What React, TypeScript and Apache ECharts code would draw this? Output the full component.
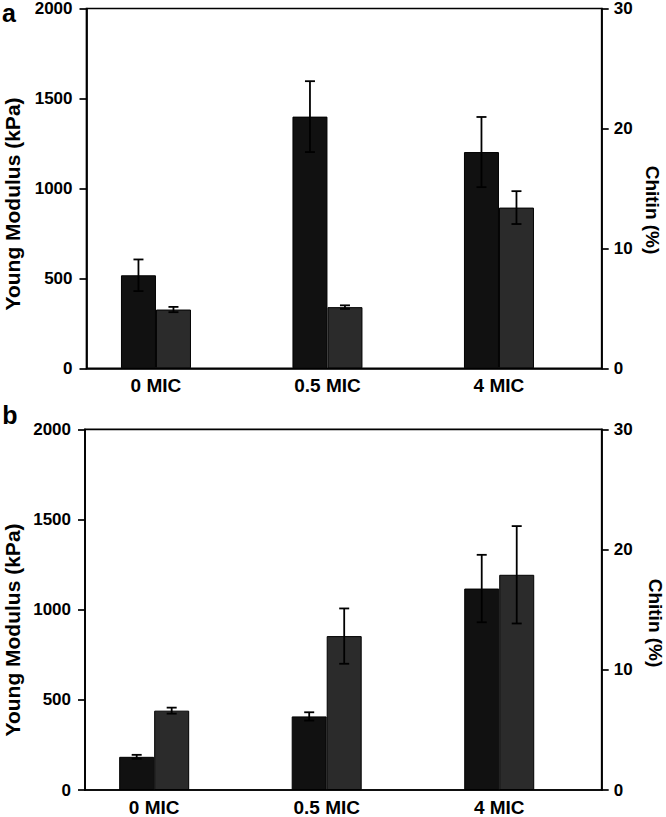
import React, { useEffect, useRef } from "react";
import * as echarts from "echarts";

const categories = ["0 MIC", "0.5 MIC", "4 MIC"];
const categoryPositions = [0, 1, 2];

const modulusA = [517, 1399, 1202];
const modulusErrA = [88, 197, 195];
const chitinA = [4.9, 5.1, 13.4];
const chitinErrA = [0.22, 0.15, 1.37];

const modulusB = [184, 408, 1117];
const modulusErrB = [11, 23, 187];
const chitinB = [6.6, 12.8, 17.9];
const chitinErrB = [0.25, 2.3, 4.05];

const leftTicks = { min: 0, max: 2000, interval: 500 };
const rightTicks = { min: 0, max: 30, interval: 10 };

const FONT = "'Liberation Sans', Arial, Helvetica, sans-serif";
const BAR_W = 35;
const AXIS_W = 1.7;

function yAxes(gridIndex: number) {
  const common = {
    gridIndex,
    type: "value" as const,
    splitLine: { show: false },
    axisLine: { show: true, onZero: false, lineStyle: { color: "#000", width: AXIS_W } },
    axisTick: { show: true, inside: false, length: 7, lineStyle: { color: "#000", width: AXIS_W } },
  };
  const label = { color: "#000", fontSize: 17, fontWeight: "bold", fontFamily: FONT, formatter: (v: number) => String(v) };
  return [
    { ...common, position: "left", ...leftTicks, axisLabel: { ...label, margin: 14 } },
    { ...common, position: "right", ...rightTicks, axisLabel: { ...label, margin: 12 } },
  ];
}

function xAxis(gridIndex: number, min: number, max: number) {
  return {
    gridIndex,
    type: "value" as const,
    min,
    max,
    splitLine: { show: false },
    axisLine: { show: true, onZero: false, lineStyle: { color: "#000", width: AXIS_W } },
    axisTick: { show: false },
    axisLabel: {
      customValues: categoryPositions,
      formatter: (v: number) => categories[Math.round(v)] ?? "",
      margin: 8,
      color: "#000",
      fontSize: 19,
      fontWeight: "bold",
      fontFamily: FONT,
    },
  };
}

function barSeries(xi: number, yi: number, values: number[], color: string) {
  return {
    type: "bar",
    xAxisIndex: xi,
    yAxisIndex: yi,
    barWidth: BAR_W,
    barGap: "0%",
    data: values.map((v, i) => [categoryPositions[i], v]),
    itemStyle: { color, borderColor: "#000", borderWidth: 1 },
    z: 2,
  };
}

function errSeries(xi: number, yi: number, values: number[], errs: number[], offset: number) {
  return {
    type: "custom",
    xAxisIndex: xi,
    yAxisIndex: yi,
    z: 5,
    data: values.map((v, i) => [categoryPositions[i], v, errs[i]]),
    renderItem: (_params: any, api: any) => {
      const x = api.value(0);
      const y = api.value(1);
      const e = api.value(2);
      const top = api.coord([x, y + e]);
      const bot = api.coord([x, y - e]);
      const cx = top[0] + offset;
      const cap = 5;
      const style = { stroke: "#000", lineWidth: 1.8 };
      return {
        type: "group",
        children: [
          { type: "line", shape: { x1: cx, y1: top[1], x2: cx, y2: bot[1] }, style },
          { type: "line", shape: { x1: cx - cap, y1: top[1], x2: cx + cap, y2: top[1] }, style },
          { type: "line", shape: { x1: cx - cap, y1: bot[1], x2: cx + cap, y2: bot[1] }, style },
        ],
      };
    },
  };
}

export default function App() {
  const ref = useRef<HTMLDivElement>(null);
  useEffect(() => {
    if (!ref.current) return;
    const chart = echarts.init(ref.current, null, { renderer: "svg" });
    const gridBase = {
      show: true,
      borderColor: "#000",
      borderWidth: AXIS_W,
      backgroundColor: "transparent",
      containLabel: false,
    };
    const titleStyle = { fill: "#000", fontSize: 21, fontWeight: "bold", fontFamily: FONT, align: "center", verticalAlign: "middle" };
    chart.setOption({
      animation: false,
      backgroundColor: "#fff",
      grid: [
        { ...gridBase, left: 86.5, right: 64.3, top: 7.3, height: 361 },
        { ...gridBase, left: 85, right: 64.3, top: 429.3, height: 362.4 },
      ],
      xAxis: [xAxis(0, -0.405, 2.599), xAxis(1, -0.401, 2.594)],
      yAxis: [...yAxes(0), ...yAxes(1)],
      series: [
        barSeries(0, 0, modulusA, "#111111"),
        barSeries(0, 1, chitinA, "#2b2b2b"),
        errSeries(0, 0, modulusA, modulusErrA, -BAR_W / 2),
        errSeries(0, 1, chitinA, chitinErrA, BAR_W / 2),
        barSeries(1, 2, modulusB, "#111111"),
        barSeries(1, 3, chitinB, "#2b2b2b"),
        errSeries(1, 2, modulusB, modulusErrB, -BAR_W / 2),
        errSeries(1, 3, chitinB, chitinErrB, BAR_W / 2),
      ],
      graphic: [
        { type: "text", x: 9, y: 13, style: { ...titleStyle, text: "a", fontSize: 25 } },
        { type: "text", x: 10, y: 415, style: { ...titleStyle, text: "b", fontSize: 25 } },
        { type: "text", x: 12, y: 204, rotation: Math.PI / 2, style: { ...titleStyle, text: "Young Modulus (kPa)" } },
        { type: "text", x: 652, y: 210, rotation: -Math.PI / 2, style: { ...titleStyle, text: "Chitin (%)", fontSize: 19 } },
        { type: "text", x: 12, y: 630, rotation: Math.PI / 2, style: { ...titleStyle, text: "Young Modulus (kPa)" } },
        { type: "text", x: 655, y: 623, rotation: -Math.PI / 2, style: { ...titleStyle, text: "Chitin (%)", fontSize: 19 } },
      ],
    });
    return () => chart.dispose();
  }, []);
  return (
    <div
      ref={ref}
      style={{ position: "fixed", left: 0, top: 0, width: 666, height: 817, background: "#fff" }}
    />
  );
}
